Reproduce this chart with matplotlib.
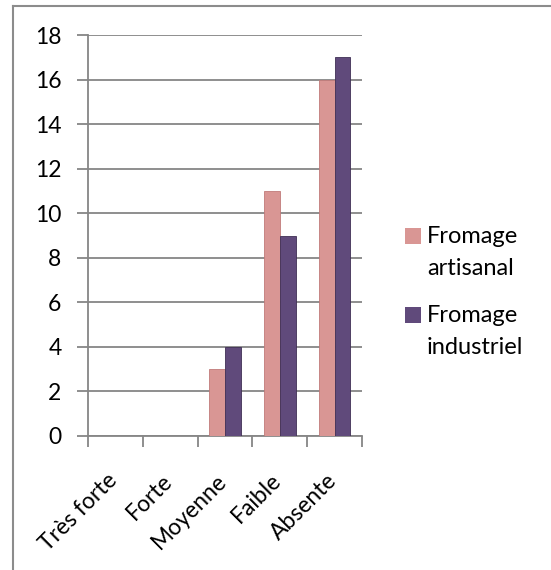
import matplotlib
matplotlib.use("Agg")
import matplotlib.pyplot as plt
from matplotlib.lines import Line2D
from matplotlib.patches import Rectangle
from matplotlib.transforms import ScaledTranslation
import numpy as np

categories = ["Très forte", "Forte", "Moyenne", "Faible", "Absente"]
artisanal = [0, 0, 3, 11, 16]
industriel = [0, 0, 4, 9, 17]
series_names = ["Fromage\nartisanal", "Fromage\nindustriel"]
yticks = [0, 2, 4, 6, 8, 10, 12, 14, 16, 18]

plt.rcParams['font.family'] = ['Lato', 'DejaVu Sans']

W, H = 551, 570
fig = plt.figure(figsize=(W/100, H/100), dpi=100)
ax = fig.add_axes([88/W, 1-436/H, (362-88)/W, (436-35)/H])

x = np.arange(len(categories))
bw = 0.29
grey = "#868686"
c1, c2 = "#D99694", "#604A7B"
colors = [c1, c2]
ax.bar(x - bw/2, artisanal, bw, color=c1, edgecolor="#C07B79", linewidth=0.6, zorder=3)
ax.bar(x + bw/2, industriel, bw, color=c2, edgecolor="#3F2F55", linewidth=0.6, zorder=3)

FS = 16.5
ax.set_xlim(-0.5, len(categories) - 0.5)
ax.set_ylim(0, 18)
ax.set_yticks(yticks)
ax.set_yticklabels([str(v) for v in yticks], fontsize=FS)
ax.yaxis.grid(True, color=grey, linewidth=1.3)
ax.set_axisbelow(True)

ax.set_xticks(x)
ax.set_xticklabels(categories, fontsize=FS, rotation=45, ha='right', va='top', rotation_mode='anchor')
ax.tick_params(axis='x', length=0, pad=20)
shift = ScaledTranslation(-0.09, -0.06, fig.dpi_scale_trans)
for lab in ax.get_xticklabels():
    lab.set_transform(lab.get_transform() + shift)
ax.set_xticks(np.arange(-0.5, len(categories)), minor=True)
ax.tick_params(axis='x', which='minor', length=8, width=1.3, color=grey, direction='out')
ax.tick_params(axis='y', length=8, width=1.3, color=grey, direction='out', pad=11)

for s in ['top', 'right']:
    ax.spines[s].set_visible(False)
for s in ['left', 'bottom']:
    ax.spines[s].set_color(grey)
    ax.spines[s].set_linewidth(1.3)

# legend (manual, marker aligned with first text line)
leg_sq_top = [228, 307]
leg_base = [243, 322]
line_gap = 32
for i, name in enumerate(series_names):
    fig.add_artist(Rectangle((405/W, 1-(leg_sq_top[i]+16)/H), 16/W, 16/H,
                             transform=fig.transFigure, facecolor=colors[i],
                             edgecolor="none"))
    for j, part in enumerate(name.split("\n")):
        fig.text(427/W, 1-(leg_base[i] + j*line_gap)/H, part, fontsize=17,
                 ha='left', va='baseline')

# outer border
fig.add_artist(Line2D([13/W, 13/W], [0, 1-6/H], color="#8C8C8C", linewidth=1.5))
fig.add_artist(Line2D([13/W, 1], [1-6/H, 1-6/H], color="#8C8C8C", linewidth=1.5))

fig.savefig("out.png", dpi=100)
